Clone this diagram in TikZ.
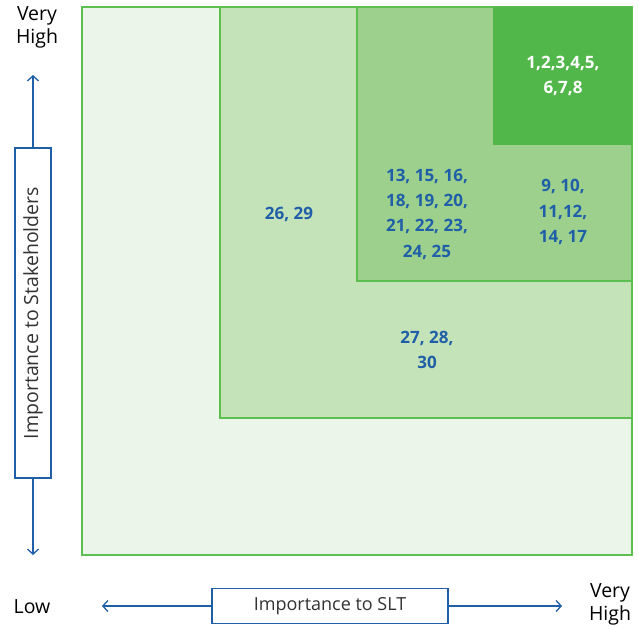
\documentclass[tikz,border=0pt]{standalone}
\usepackage{fontspec}
\setmainfont{Open Sans}
\usetikzlibrary{arrows.meta}
\definecolor{gborder}{HTML}{5CBF50}
\definecolor{g1}{HTML}{EBF5E9}
\definecolor{g2}{HTML}{C5E3B8}
\definecolor{g3}{HTML}{9DD08C}
\definecolor{g4}{HTML}{52B74A}
\definecolor{navy}{HTML}{1F5FA8}
\begin{document}
\begin{tikzpicture}[x=1pt,y=-1pt,
  zone/.style={draw=gborder,line width=1.6pt},
  lbl/.style={text=navy,font=\fontsize{17}{25.3}\selectfont\bfseries,align=center},
  axtxt/.style={font=\fontsize{19.5}{23}\selectfont,align=center,text=black},
  axbox/.style={draw=navy,line width=1.3pt,fill=white,font=\fontsize{18}{20}\selectfont,text=black!80,inner sep=0pt},
  axarrow/.style={draw=navy,line width=1.3pt,-{Straight Barb[length=5pt,width=11pt,line width=1.3pt]}}]
\useasboundingbox (0,0) rectangle (639,629);
\path[zone,fill=g1] (82,7) rectangle (632,555);
\path[zone,fill=g2] (220,7) rectangle (632,418);
\path[zone,fill=g3] (357,7) rectangle (632,281);
\path[fill=g4] (493,7) rectangle (632,145);
\node[lbl,text=white] (n1) at (563,76) {1,2,3,4,5,\\6,7,8};
\node[lbl] (n2) at (427,214) {13, 15, 16,\\18, 19, 20,\\21, 22, 23,\\24, 25};
\node[lbl] (n3) at (563,212) {9, 10,\\11,12,\\14, 17};
\node[lbl] (n4) at (289,214) {26, 29};
\node[lbl] (n5) at (427,350) {27, 28,\\30};
% vertical axis
\node[axtxt] (vh1) at (37,27) {Very\\High};
\node[axbox,minimum width=36pt,minimum height=330pt] (ybox) at (33,313) {};
\node[rotate=90,font=\fontsize{19.5}{20}\selectfont,text=black!80] (ytxt) at (ybox.center) {Importance to Stakeholders};
\coordinate (ytop) at (33,75);
\coordinate (ybot) at (33,555);
\draw[axarrow] (ybox.north) -- (ytop);
\draw[axarrow] (ybox.south) -- (ybot);
% horizontal axis
\node[axtxt] (low) at (32,607) {Low};
\node[axbox,minimum width=236pt,minimum height=35pt] (xbox) at (330,606) {Importance to SLT};
\coordinate (xleft) at (102,606);
\coordinate (xright) at (562,606);
\draw[axarrow] (xbox.west) -- (xleft);
\draw[axarrow] (xbox.east) -- (xright);
\node[axtxt] (vh2) at (610,604) {Very\\High};
\end{tikzpicture}
\end{document}
